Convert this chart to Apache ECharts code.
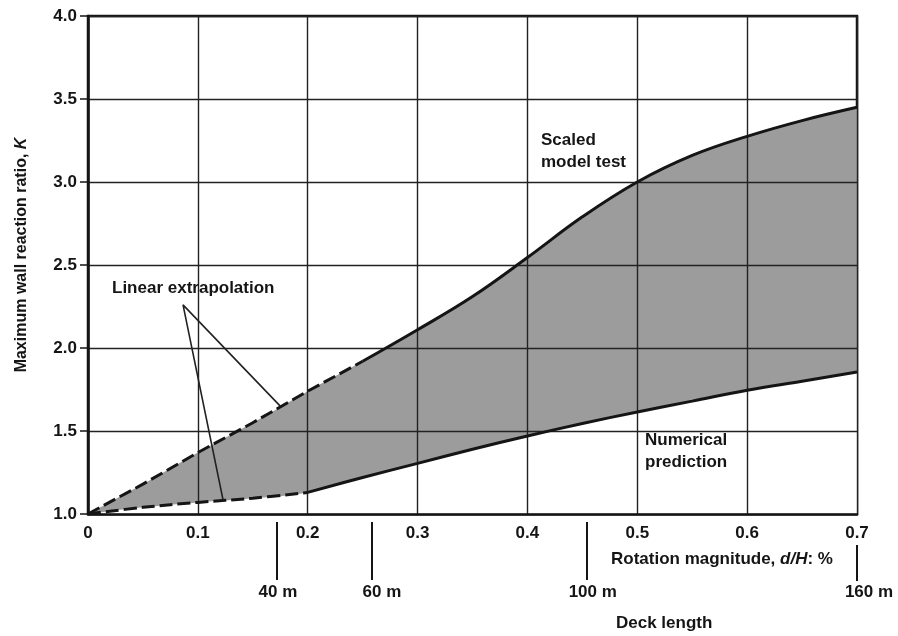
<!DOCTYPE html>
<html>
<head>
<meta charset="utf-8">
<script src="https://cdn.jsdelivr.net/npm/echarts/dist/echarts.min.js"></script>
<style>
  html, body { margin: 0; padding: 0; background: #ffffff; }
  #chart { width: 898px; height: 636px; }
</style>
</head>
<body>
<div id="chart"></div>
<script>
// Rotation magnitude d/H (%) at which both curves are sampled
const rotation = [0, 0.05, 0.1, 0.15, 0.2, 0.25, 0.3, 0.35, 0.4, 0.45, 0.5, 0.55, 0.6, 0.65, 0.7];
// Maximum wall reaction ratio K, scaled model test (upper bound)
const scaledModelTest = [1.0, 1.18, 1.37, 1.55, 1.74, 1.92, 2.11, 2.31, 2.545, 2.79, 3.00, 3.16, 3.275, 3.37, 3.45];
// Maximum wall reaction ratio K, numerical prediction (lower bound)
const numericalPrediction = [1.0, 1.04, 1.07, 1.095, 1.13, 1.22, 1.305, 1.39, 1.47, 1.545, 1.615, 1.68, 1.745, 1.80, 1.855];
// Where each curve stops being a linear extrapolation
const upperExtrapolationEnd = 0.25;
const lowerExtrapolationEnd = 0.2;

const xTickLabels = ['0', '0.1', '0.2', '0.3', '0.4', '0.5', '0.6', '0.7'];
const yTickLabels = ['1.0', '1.5', '2.0', '2.5', '3.0', '3.5', '4.0'];

// Deck length marks on the rotation scale
const deckPositions = [0.172, 0.2585, 0.454];
const deckLabels = ['40 m', '60 m', '100 m'];
const deckLastPosition = [0.7];
const deckLastLabel = ['160 m'];

// Leader for the "Linear extrapolation" note: upper end, apex, lower end
const leaderPath = [[0.175, 1.65], [0.0865, 2.26], [0.123, 1.083]];

const FONT = '"Liberation Sans", Arial, Helvetica, sans-serif';
const INK = '#151515';

function pairs(xs, ys, keep) {
  const out = [];
  for (let i = 0; i < xs.length; i++) {
    if (keep(xs[i])) out.push([xs[i], ys[i]]);
  }
  return out;
}

const all = () => true;
const chart = echarts.init(document.getElementById('chart'), null, { renderer: 'canvas' });
const curveStyle = { color: INK, width: 3 };

chart.setOption({
  backgroundColor: '#ffffff',
  animation: false,
  grid: {
    left: 88, right: 41, top: 16, bottom: 122,
    show: true, borderColor: INK, borderWidth: 2.5, backgroundColor: 'transparent'
  },
  xAxis: [
    {
      type: 'value', min: 0, max: 0.7, interval: 0.1, z: 5,
      axisLine: { show: true, lineStyle: { color: INK, width: 2.5 } },
      axisTick: { show: false },
      splitLine: { show: true, lineStyle: { color: '#222', width: 1.4 } },
      axisLabel: {
        margin: 11, color: INK, fontFamily: FONT, fontSize: 17, fontWeight: 'bold',
        formatter: (v) => xTickLabels[Math.round(v * 10)]
      }
    },
    {
      type: 'value', min: 0, max: 0.7, position: 'bottom', offset: 8,
      axisLine: { show: false },
      splitLine: { show: false },
      axisTick: {
        show: true, customValues: deckPositions, length: 58,
        lineStyle: { color: INK, width: 2 }
      },
      axisLabel: {
        show: true, customValues: deckPositions, margin: 62,
        color: INK, fontFamily: FONT, fontSize: 17, fontWeight: 'bold',
        formatter: (v) => {
          const i = deckPositions.indexOf(v);
          return '{p' + i + '|' + deckLabels[i] + '}';
        },
        rich: {
          p0: { padding: [0, 0, 0, 2], fontFamily: FONT, fontSize: 17, fontWeight: 'bold', color: INK },
          p1: { padding: [0, 0, 0, 20], fontFamily: FONT, fontSize: 17, fontWeight: 'bold', color: INK },
          p2: { padding: [0, 0, 0, 12], fontFamily: FONT, fontSize: 17, fontWeight: 'bold', color: INK }
        }
      }
    },
    {
      type: 'value', min: 0, max: 0.7, position: 'bottom', offset: 31,
      axisLine: { show: false },
      splitLine: { show: false },
      axisTick: {
        show: true, customValues: deckLastPosition, length: 36,
        lineStyle: { color: INK, width: 2 }
      },
      axisLabel: {
        show: true, customValues: deckLastPosition, margin: 39,
        color: INK, fontFamily: FONT, fontSize: 17, fontWeight: 'bold',
        formatter: () => '{q|' + deckLastLabel[0] + '}',
        rich: {
          q: { padding: [0, 0, 0, 24], fontFamily: FONT, fontSize: 17, fontWeight: 'bold', color: INK }
        }
      }
    }
  ],
  yAxis: {
    type: 'value', min: 1, max: 4, interval: 0.5, z: 5,
    axisLine: { show: true, lineStyle: { color: INK, width: 2.5 } },
    axisTick: { show: true, length: 8, lineStyle: { color: INK, width: 1.5 } },
    splitLine: { show: true, lineStyle: { color: '#222', width: 1.4 } },
    axisLabel: {
      margin: 11, color: INK, fontFamily: FONT, fontSize: 17, fontWeight: 'bold',
      formatter: (v) => yTickLabels[Math.round((v - 1) * 2)]
    }
  },
  series: [
    // shaded band: grey under the upper bound, then white under the lower bound
    {
      name: 'band-upper', type: 'line', data: pairs(rotation, scaledModelTest, all),
      smooth: 0.4, symbol: 'none', lineStyle: { width: 0, opacity: 0 },
      areaStyle: { color: '#9c9c9c', opacity: 1, origin: 'start' }, z: 1, silent: true
    },
    {
      name: 'band-lower', type: 'line', data: pairs(rotation, numericalPrediction, all),
      smooth: 0.4, symbol: 'none', lineStyle: { width: 0, opacity: 0 },
      areaStyle: { color: '#ffffff', opacity: 1, origin: 'start' }, z: 2, silent: true
    },
    {
      name: 'Scaled model test (extrapolated)', type: 'line',
      data: pairs(rotation, scaledModelTest, x => x <= upperExtrapolationEnd),
      symbol: 'none', lineStyle: Object.assign({ type: [13, 5] }, curveStyle), z: 6
    },
    {
      name: 'Scaled model test', type: 'line', smooth: 0.4,
      data: pairs(rotation, scaledModelTest, x => x >= upperExtrapolationEnd),
      symbol: 'none', lineStyle: curveStyle, z: 6
    },
    {
      name: 'Numerical prediction (extrapolated)', type: 'line', smooth: 0.4,
      data: pairs(rotation, numericalPrediction, x => x <= lowerExtrapolationEnd),
      symbol: 'none', lineStyle: Object.assign({ type: [13, 5] }, curveStyle), z: 6
    },
    {
      name: 'Numerical prediction', type: 'line', smooth: 0.4,
      data: pairs(rotation, numericalPrediction, x => x >= lowerExtrapolationEnd),
      symbol: 'none', lineStyle: curveStyle, z: 6
    },
    {
      name: 'leader', type: 'line', data: leaderPath,
      symbol: 'none', lineStyle: { color: '#222', width: 1.6 }, z: 7, silent: true
    }
  ],
  graphic: [
    {
      type: 'text', x: 22, y: 255, rotation: Math.PI / 2,
      style: {
        text: 'Maximum wall reaction ratio, {i|K}',
        font: 'bold 16px ' + FONT, fill: INK, textAlign: 'center', textVerticalAlign: 'middle',
        rich: { i: { fontStyle: 'italic', fontWeight: 'bold', fontSize: 16, fontFamily: FONT, fill: INK } }
      }
    },
    {
      type: 'text', x: 611, y: 559,
      style: {
        text: 'Rotation magnitude, {i|d/H}: %',
        font: 'bold 17px ' + FONT, fill: INK, textAlign: 'left', textVerticalAlign: 'middle',
        rich: { i: { fontStyle: 'italic', fontWeight: 'bold', fontSize: 17, fontFamily: FONT, fill: INK } }
      }
    },
    {
      type: 'text', x: 616, y: 623,
      style: { text: 'Deck length', font: 'bold 17px ' + FONT, fill: INK, textAlign: 'left', textVerticalAlign: 'middle' }
    },
    {
      type: 'text', x: 112, y: 288, z: 10,
      style: { text: 'Linear extrapolation', font: 'bold 17px ' + FONT, fill: INK, textAlign: 'left', textVerticalAlign: 'middle' }
    },
    {
      type: 'text', x: 541, y: 140, z: 10,
      style: { text: 'Scaled', font: 'bold 17px ' + FONT, fill: INK, textAlign: 'left', textVerticalAlign: 'middle' }
    },
    {
      type: 'text', x: 541, y: 162, z: 10,
      style: { text: 'model test', font: 'bold 17px ' + FONT, fill: INK, textAlign: 'left', textVerticalAlign: 'middle' }
    },
    {
      type: 'text', x: 645, y: 440, z: 10,
      style: { text: 'Numerical', font: 'bold 17px ' + FONT, fill: INK, textAlign: 'left', textVerticalAlign: 'middle' }
    },
    {
      type: 'text', x: 645, y: 462, z: 10,
      style: { text: 'prediction', font: 'bold 17px ' + FONT, fill: INK, textAlign: 'left', textVerticalAlign: 'middle' }
    }
  ]
});
</script>
</body>
</html>
